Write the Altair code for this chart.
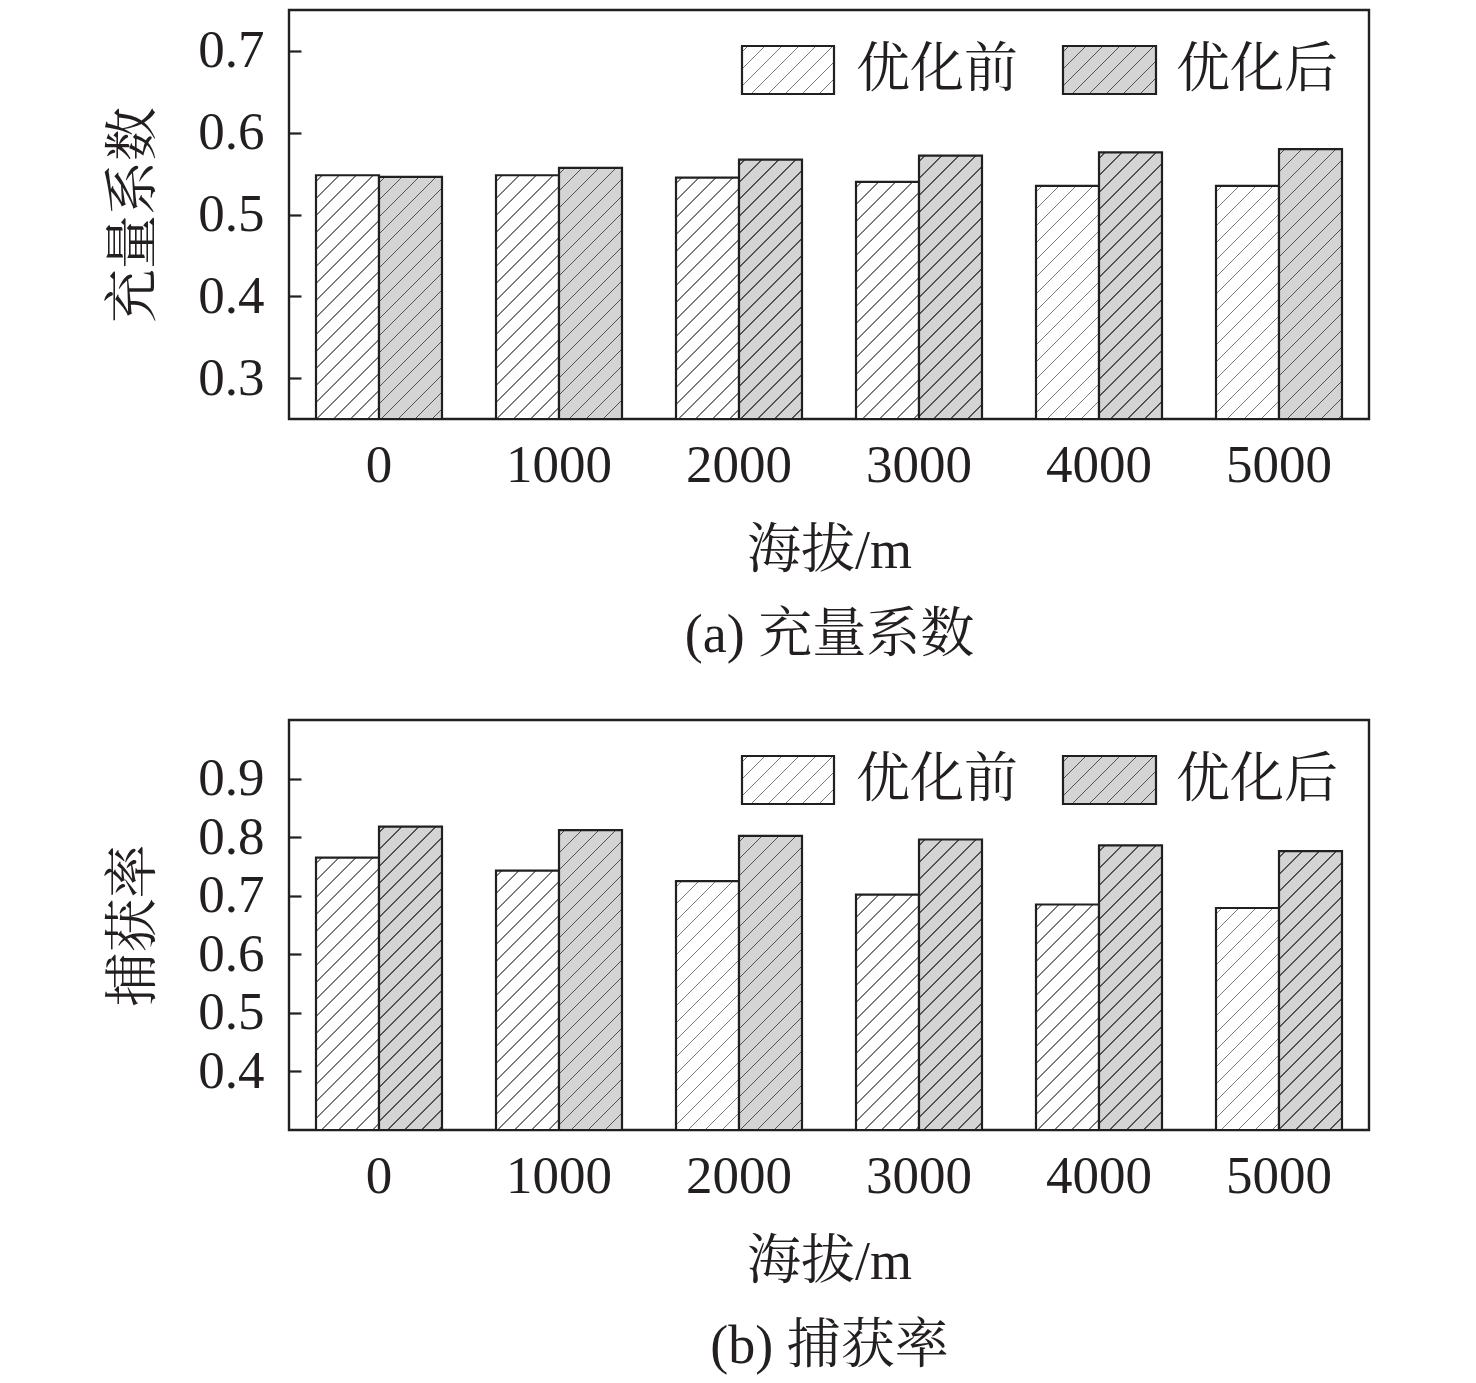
import altair as alt
import pandas as pd

# ---------------- data ----------------
altitudes = ["0", "1000", "2000", "3000", "4000", "5000"]
series = ["优化前", "优化后"]

fill_coeff_before = [0.548, 0.548, 0.545, 0.540, 0.535, 0.535]
fill_coeff_after = [0.546, 0.557, 0.567, 0.572, 0.576, 0.580]

capture_before = [0.765, 0.743, 0.725, 0.702, 0.685, 0.679]
capture_after = [0.818, 0.812, 0.802, 0.796, 0.786, 0.776]

y_ticks_a = [0.3, 0.4, 0.5, 0.6, 0.7]
y_ticks_b = [0.4, 0.5, 0.6, 0.7, 0.8, 0.9]

# ---------------- style ----------------
FONT = "Liberation Serif, Noto Serif CJK SC, Noto Sans CJK SC"
INK = "#231f20"
BG = {"优化前": "#ffffff", "优化后": "#d4d4d4"}
LINE = {"优化前": "#7a7a7a", "优化后": "#505050"}
W = 1080
BAR_W = 1080 / 6 * 0.7 / 2


def hatch(bg, line, w, h, period=17.0, lw=1.7, phase=6.0):
    L = w + h
    stops = [{"offset": 0, "color": bg}]
    c = phase
    while c < L:
        a = max(0.0, (c - lw / 2) / L)
        b = min(1.0, (c + lw / 2) / L)
        stops += [
            {"offset": round(a, 5), "color": bg},
            {"offset": round(a, 5), "color": line},
            {"offset": round(b, 5), "color": line},
            {"offset": round(b, 5), "color": bg},
        ]
        c += period
    stops.append({"offset": 1, "color": bg})
    k = (w + h) / (w * w + h * h)
    return {"gradient": "linear", "x1": 0, "y1": 0,
            "x2": round(w * k, 5), "y2": round(h * k, 5), "stops": stops}


def panel(before, after, dmin, dmax, ticks, ytitle, caption, H):
    df = pd.DataFrame({
        "alt": altitudes * 2,
        "series": [series[0]] * 6 + [series[1]] * 6,
        "value": before + after,
    })
    xenc = alt.X("alt:N", sort=altitudes,
                 scale=alt.Scale(domain=altitudes, paddingInner=0.3, paddingOuter=0.15),
                 axis=alt.Axis(title=["海拔/m", caption], labelAngle=0, ticks=False,
                               domain=False, labelPadding=20, labelFontSize=53,
                               labelFont=FONT, labelColor=INK, titleFont=FONT,
                               titleFontSize=54, titleFontWeight="normal",
                               titleColor=INK, titlePadding=32, titleLineHeight=84))
    xo = alt.XOffset("series:N", sort=series, scale=alt.Scale(domain=series))
    yenc = alt.Y("value:Q",
                 scale=alt.Scale(domain=[dmin, dmax], zero=False, nice=False),
                 axis=alt.Axis(values=ticks, format=".1f", tickSize=12, offset=-12,
                               tickWidth=2.2, tickColor=INK, domain=False, grid=False,
                               labelPadding=25, labelFontSize=53, labelFont=FONT,
                               labelColor=INK, title=ytitle, titleFont=FONT,
                               titleFontSize=54, titleFontWeight="normal",
                               titleColor=INK, titlePadding=36))
    layers = []
    for s, vals in zip(series, [before, after]):
        for a, v in zip(altitudes, vals):
            h = (v - dmin) / (dmax - dmin) * H
            layers.append(
                alt.Chart(df)
                .transform_filter((alt.datum.alt == a) & (alt.datum.series == s))
                .mark_bar(fill=hatch(BG[s], LINE[s], BAR_W, h), stroke=INK,
                          strokeWidth=2.2)
                .encode(x=xenc, xOffset=xo, y=yenc, y2=alt.datum(dmin))
            )
    # legend
    leg_df = pd.DataFrame({"series": series})
    sw_x = {series[0]: (453, 545, 567), series[1]: (774, 867, 887)}
    for s in series:
        x0, x1, tx = sw_x[s]
        layers.append(
            alt.Chart(leg_df).transform_filter(alt.datum.series == s)
            .mark_rect(fill=hatch(BG[s], LINE[s], x1 - x0, 48), stroke=INK,
                       strokeWidth=2.2)
            .encode(x=alt.value(x0), x2=alt.value(x1), y=alt.value(36), y2=alt.value(84))
        )
        layers.append(
            alt.Chart(leg_df).transform_filter(alt.datum.series == s)
            .mark_text(font=FONT, fontSize=54, color=INK, align="left", baseline="middle")
            .encode(x=alt.value(tx), y=alt.value(61), text="series:N")
        )
    return alt.layer(*layers).properties(width=W, height=H)


top = panel(fill_coeff_before, fill_coeff_after, 0.25, 0.75, y_ticks_a,
            "充量系数", "(a) 充量系数", 409)
bottom = panel(capture_before, capture_after, 0.30, 1.00, y_ticks_b,
               "捕获率", "(b) 捕获率", 410)

chart = (
    alt.vconcat(top, bottom, spacing=54)
    .properties(padding={"left": 98, "top": 0, "right": 10, "bottom": 0},
                background="white")
    .configure_view(stroke=INK, strokeWidth=2.4)
)

chart.save("out.html", embed_options={"renderer": "svg", "actions": False})
